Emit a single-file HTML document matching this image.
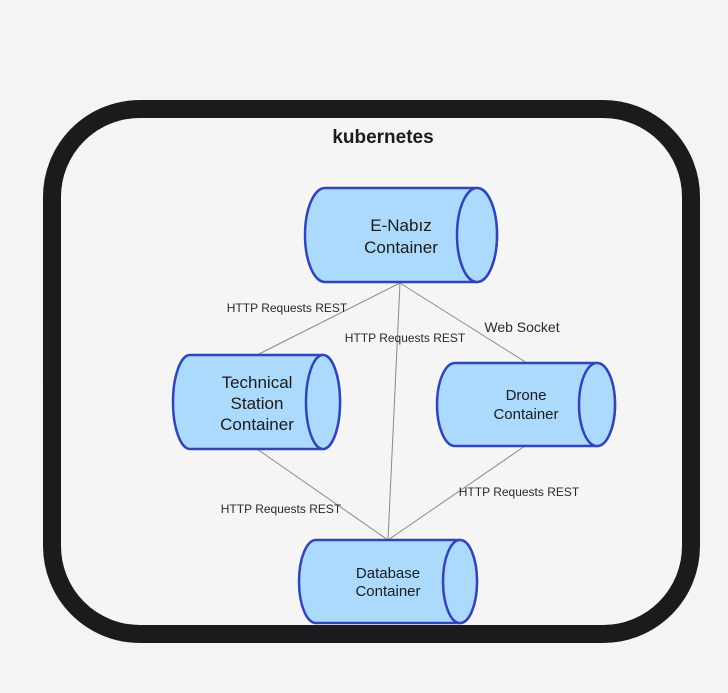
<!DOCTYPE html>
<html><head><meta charset="utf-8"><style>
html,body{margin:0;padding:0;background:#f4f4f4;}
svg{display:block;font-family:"Liberation Sans",sans-serif;}
</style></head><body>
<svg width="728" height="693" viewBox="0 0 728 693">
<rect x="0" y="0" width="728" height="693" fill="#f4f4f4"/>
<rect x="52" y="109" width="639" height="525" rx="88" ry="88" fill="#f5f5f5" stroke="#1b1b1d" stroke-width="18"/>
<text x="383" y="143" text-anchor="middle" font-size="19" font-weight="bold" fill="#1b1b1d">kubernetes</text>
<g stroke="#8a8a8a" stroke-width="1" fill="none">
<line x1="257" y1="355" x2="400" y2="283"/>
<line x1="388" y1="540" x2="400" y2="283"/>
<line x1="527" y1="363" x2="400" y2="283"/>
<line x1="257" y1="449" x2="388" y2="540"/>
<line x1="525" y1="446" x2="388" y2="540"/>
</g>
<g fill="#acdafc" stroke="#3245b8" stroke-width="2.5">
<path d="M325,188 L477,188 A20,47 0 0 1 477,282 L325,282 A20,47 0 0 1 325,188 Z"/>
<ellipse cx="477" cy="235" rx="20" ry="47"/>
<path d="M190,355 L323,355 A17,47 0 0 1 323,449 L190,449 A17,47 0 0 1 190,355 Z"/>
<ellipse cx="323" cy="402" rx="17" ry="47"/>
<path d="M455,363 L597,363 A18,41.5 0 0 1 597,446 L455,446 A18,41.5 0 0 1 455,363 Z"/>
<ellipse cx="597" cy="404.5" rx="18" ry="41.5"/>
<path d="M316,540 L460,540 A17,41.5 0 0 1 460,623 L316,623 A17,41.5 0 0 1 316,540 Z"/>
<ellipse cx="460" cy="581.5" rx="17" ry="41.5"/>
</g>
<g fill="#1b1b1d" text-anchor="middle">
<text x="401" y="231" font-size="17">E-Nabız</text>
<text x="401" y="253" font-size="17">Container</text>
<text x="257" y="388" font-size="17">Technical</text>
<text x="257" y="409" font-size="17">Station</text>
<text x="257" y="430" font-size="17">Container</text>
<text x="526" y="400" font-size="15">Drone</text>
<text x="526" y="419" font-size="15">Container</text>
<text x="388" y="578" font-size="15">Database</text>
<text x="388" y="596" font-size="15">Container</text>
</g>
<g fill="#2a2a2a" text-anchor="middle" font-size="12">
<text x="287" y="312">HTTP Requests REST</text>
<text x="405" y="342">HTTP Requests REST</text>
<text x="281" y="513">HTTP Requests REST</text>
<text x="519" y="496">HTTP Requests REST</text>
<text x="522" y="332" font-size="14">Web Socket</text>
</g>
</svg>
</body></html>
